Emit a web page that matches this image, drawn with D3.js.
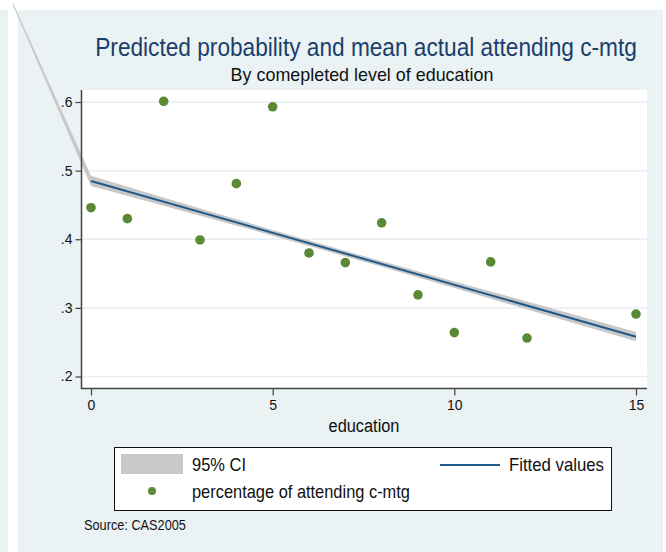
<!DOCTYPE html>
<html>
<head>
<meta charset="utf-8">
<script src="https://cdn.jsdelivr.net/npm/d3@7"></script>
<style>
  html, body { margin: 0; padding: 0; background: #ffffff; }
  svg { display: block; font-family: "Liberation Sans", Arial, sans-serif; }
</style>
</head>
<body>
<svg id="chart" width="666" height="552"></svg>
<script>
// Mean share attending c-mtg by completed years of education
const education = [0, 1, 2, 3, 4, 5, 6, 7, 8, 9, 10, 11, 12, 15];
const attending = [0.446, 0.430, 0.601, 0.399, 0.481, 0.593, 0.380, 0.366, 0.424, 0.319, 0.264, 0.367, 0.256, 0.291];

// Linear fit (end points) and its 95% confidence band
const fitEdu = [0, 15];
const fitVal = [0.485, 0.258];
const ciEdu = [-2.15, 0, 2.5, 5, 7.5, 10, 12.5, 15];
const ciLo  = [0.741, 0.4775, 0.4417, 0.4052, 0.3675, 0.3289, 0.2899, 0.2513];
const ciHi  = [0.745, 0.4925, 0.4527, 0.4136, 0.3755, 0.3385, 0.3019, 0.2649];

const yTicks = [0.2, 0.3, 0.4, 0.5, 0.6];
const xTicks = [0, 5, 10, 15];

const titleText = "Predicted probability and mean actual attending c-mtg";
const subtitleText = "By comepleted level of education";
const xTitle = "education";
const legendCI = "95% CI";
const legendFit = "Fitted values";
const legendPts = "percentage of attending c-mtg";
const noteText = "Source: CAS2005";

const bg = "#eaf2f3";
const ciColor = "#c8c8c8";
const lineColor = "#1f5a8a";
const dotColor = "#5b8a36";
const axisColor = "#444444";

const svg = d3.select("#chart");

// graph backgrounds
svg.append("rect").attr("x", 0).attr("y", 10).attr("width", 8).attr("height", 542).attr("fill", bg);
svg.append("rect").attr("x", 18).attr("y", 10).attr("width", 645).attr("height", 542).attr("fill", bg);

// plot region
const plot = { left: 82, right: 647, top: 90, bottom: 388 };
svg.append("rect")
  .attr("x", plot.left).attr("y", plot.top)
  .attr("width", plot.right - plot.left).attr("height", plot.bottom - plot.top)
  .attr("fill", "#ffffff");

const x = d3.scaleLinear().domain([0, 15]).range([91, 636]);
const y = d3.scaleLinear().domain([0.2, 0.6]).range([376.5, 102]);

// horizontal grid
svg.append("g").selectAll("line").data(yTicks).join("line")
  .attr("x1", plot.left).attr("x2", plot.right)
  .attr("y1", d => y(d)).attr("y2", d => y(d))
  .attr("stroke", "#e6eef2").attr("stroke-width", 1.5);

// confidence band
const band = d3.area()
  .x((d, i) => x(ciEdu[i]))
  .y0((d, i) => y(ciLo[i]))
  .y1((d, i) => y(ciHi[i]));
svg.append("path").datum(ciEdu).attr("d", band).attr("fill", ciColor);

// fitted line
const fitLine = d3.line().x((d, i) => x(fitEdu[i])).y((d, i) => y(fitVal[i]));
svg.append("path").datum(fitEdu).attr("d", fitLine)
  .attr("fill", "none").attr("stroke", lineColor).attr("stroke-width", 2);

// observed means
svg.append("g").selectAll("circle").data(education).join("circle")
  .attr("cx", d => x(d)).attr("cy", (d, i) => y(attending[i]))
  .attr("r", 4.8).attr("fill", dotColor);

// axes
const fmt = d => d3.format(".1f")(d).replace(/^0/, "");
const yAxis = svg.append("g").attr("transform", `translate(${plot.left - 0.5},0)`)
  .call(d3.axisLeft(y).tickValues(yTicks).tickFormat(fmt).tickSize(6).tickPadding(3));
const xAxis = svg.append("g").attr("transform", `translate(0,${plot.bottom + 0.5})`)
  .call(d3.axisBottom(x).tickValues(xTicks).tickFormat(d3.format("d")).tickSize(7).tickPadding(5));
[yAxis, xAxis].forEach(g => {
  g.select(".domain").remove();
  g.selectAll(".tick line").attr("stroke", axisColor).attr("stroke-width", 1.2);
  g.selectAll(".tick text").attr("fill", "#111").attr("font-size", 14)
    .attr("font-family", "Liberation Sans, Arial, sans-serif");
});
svg.append("line").attr("x1", plot.left - 0.5).attr("x2", plot.left - 0.5)
  .attr("y1", plot.top).attr("y2", plot.bottom + 1)
  .attr("stroke", axisColor).attr("stroke-width", 1.5);
svg.append("line").attr("x1", plot.left - 1).attr("x2", plot.right)
  .attr("y1", plot.bottom + 0.5).attr("y2", plot.bottom + 0.5)
  .attr("stroke", axisColor).attr("stroke-width", 1.5);

// narrow text helper: squeezes the text horizontally to the given width
function label(txt, px, py, size, width, opts = {}) {
  const g = svg.append("g");
  const t = g.append("text").attr("x", 0).attr("y", 0)
    .attr("font-size", size).attr("fill", opts.fill || "#111")
    .attr("text-anchor", opts.anchor || "start").text(txt);
  const natural = t.node().getComputedTextLength();
  const sx = width ? width / natural : 1;
  g.attr("transform", `translate(${px},${py}) scale(${sx},1)`);
  return t;
}

label(titleText, 366, 56, 26, 542, { anchor: "middle", fill: "#1a3e6b" });
label(subtitleText, 362, 81, 19, 263, { anchor: "middle" });
label(xTitle, 364, 432, 19, 71, { anchor: "middle" });

// legend
svg.append("rect").attr("x", 114.5).attr("y", 447.5).attr("width", 497).attr("height", 63)
  .attr("fill", "#ffffff").attr("stroke", "#111").attr("stroke-width", 1);
svg.append("rect").attr("x", 121).attr("y", 454).attr("width", 62).attr("height", 20).attr("fill", ciColor);
label(legendCI, 192, 471, 18, 54);
svg.append("line").attr("x1", 440).attr("x2", 500).attr("y1", 465).attr("y2", 465)
  .attr("stroke", lineColor).attr("stroke-width", 2);
label(legendFit, 509, 471, 18, 95);
svg.append("circle").attr("cx", 152).attr("cy", 491).attr("r", 4).attr("fill", dotColor);
label(legendPts, 192, 498, 18, 218);

label(noteText, 84, 530, 14, 102);
</script>
</body>
</html>
